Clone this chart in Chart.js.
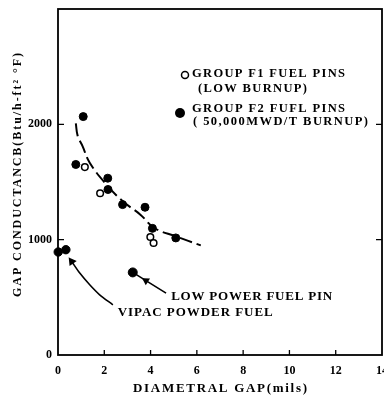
<!DOCTYPE html>
<html>
<head>
<meta charset="utf-8">
<script src="https://cdn.jsdelivr.net/npm/chart.js@4.4.0/dist/chart.umd.min.js"></script>
<style>
  html, body { margin: 0; padding: 0; background: #fff; overflow: hidden; }
</style>
</head>
<body>
<canvas id="gapChart" width="392" height="401"></canvas>
<script>
const xTicks = [0, 2, 4, 6, 8, 10, 12, 14];
const yTicks = [0, 1000, 2000];

// group F2 pins (filled)
const f2Gap  = [0.77, 1.09, 2.15, 2.16, 2.79, 3.76, 4.08, 5.09];
const f2Cond = [1652, 2067, 1533, 1435, 1304, 1281, 1098, 1015];
// group F1 pins (open)
const f1Gap  = [1.16, 1.82, 3.99, 4.13];
const f1Cond = [1629, 1403, 1023, 971];
// dashed trend through the pin data
const fitGap  = [0.77, 0.85, 1.06, 1.37, 2.09, 2.80, 3.56, 4.16, 5.09, 6.17];
const fitCond = [2009, 1900, 1811, 1667, 1478, 1333, 1217, 1101, 1029, 950];
// vipac powder fuel
const vipacGap  = [0.01, 0.34];
const vipacCond = [893, 913];
const vipacLeadGap  = [0.59, 0.94, 1.37, 1.80, 2.37];
const vipacLeadCond = [811, 710, 609, 522, 435];
// low power fuel pin
const lowGap  = [3.23];
const lowCond = [716];
const lowLeadGap  = [3.23, 3.80, 4.67];
const lowLeadCond = [716, 645, 537];

const FONT = "'Liberation Serif', 'DejaVu Serif', serif";

const pts = (xs, ys) => xs.map((v, i) => ({ x: v, y: ys[i] }));

// stretch letter spacing so a label spans a given width
function fitText(ctx, str, x, y, width) {
  ctx.letterSpacing = '0px';
  const w = ctx.measureText(str).width;
  const gap = Math.max(0, (width - w) / (str.length - 1));
  ctx.letterSpacing = gap + 'px';
  ctx.fillText(str, x, y);
  ctx.letterSpacing = '0px';
}

// no extra room for edge labels, the layout padding decides the plot box
const noEdgePad = s => {
  s.paddingLeft = 0; s.paddingRight = 0;
  s.paddingTop = 0; s.paddingBottom = 0;
};

const frame = {
  id: 'frame',
  beforeDatasetsDraw(chart) {
    const { ctx, chartArea: a, scales: { x, y } } = chart;
    ctx.save();
    ctx.strokeStyle = '#000';
    ctx.lineWidth = 1.8;
    ctx.strokeRect(a.left, a.top, a.right - a.left, a.bottom - a.top);
    ctx.lineWidth = 1.3;
    ctx.beginPath();
    xTicks.forEach(v => {
      if (v > 0 && v < 14) {
        const px = x.getPixelForValue(v);
        ctx.moveTo(px, a.bottom);
        ctx.lineTo(px, a.bottom - 5);
      }
    });
    yTicks.forEach(v => {
      if (v > 0) {
        const py = y.getPixelForValue(v);
        ctx.moveTo(a.left, py); ctx.lineTo(a.left + 6, py);
        ctx.moveTo(a.right, py); ctx.lineTo(a.right - 6, py);
      }
    });
    ctx.stroke();
    ctx.restore();
  },
  afterDraw(chart) {
    const { ctx, chartArea: a, scales: { x, y } } = chart;
    ctx.save();
    ctx.fillStyle = '#000';
    ctx.strokeStyle = '#000';
    ctx.textBaseline = 'middle';
    ctx.textAlign = 'left';

    // axis titles
    ctx.font = 'bold 13px ' + FONT;
    fitText(ctx, 'DIAMETRAL GAP(mils)', 133, 389, 174);
    ctx.save();
    ctx.translate(18, 175);
    ctx.rotate(-Math.PI / 2);
    ctx.font = 'bold 12px ' + FONT;
    fitText(ctx, 'GAP CONDUCTANCB(Btu/h-ft\u00b2 \u00b0F)', -122, 0, 244);
    ctx.restore();

    // legend
    const lx = a.left, ly = a.top;
    ctx.lineWidth = 1.5;
    ctx.beginPath();
    ctx.arc(lx + 127, ly + 66, 3.5, 0, Math.PI * 2);
    ctx.stroke();
    ctx.beginPath();
    ctx.arc(lx + 122, ly + 104, 5, 0, Math.PI * 2);
    ctx.fill();
    ctx.font = 'bold 12.5px ' + FONT;
    fitText(ctx, 'GROUP F1 FUEL PINS', lx + 134, ly + 65, 153);
    fitText(ctx, '(LOW BURNUP)', lx + 140, ly + 80, 109);
    fitText(ctx, 'GROUP F2 FUFL PINS', lx + 134, ly + 100, 153);
    fitText(ctx, '( 50,000MWD/T BURNUP)', lx + 135, ly + 113, 175);

    // curve labels
    ctx.font = 'bold 13px ' + FONT;
    fitText(ctx, 'LOW POWER FUEL PIN', x.getPixelForValue(4.89), y.getPixelForValue(504), 161);
    fitText(ctx, 'VIPAC POWDER FUEL', x.getPixelForValue(2.58), y.getPixelForValue(365), 155);
    ctx.restore();
  }
};

const tickFont = { family: FONT, weight: 'bold', size: 12 };

new Chart(document.getElementById('gapChart'), {
  type: 'scatter',
  data: {
    datasets: [
      {
        type: 'line', data: pts(fitGap, fitCond), borderColor: '#000', borderWidth: 2,
        borderDash: [13, 5], tension: 0.4, pointRadius: 0, clip: false
      },
      {
        data: pts(f2Gap, f2Cond), backgroundColor: '#000', borderColor: '#000',
        pointRadius: 4, clip: false
      },
      {
        data: pts(f1Gap, f1Cond), backgroundColor: '#fff', borderColor: '#000',
        borderWidth: 1.5, pointRadius: 3.3, clip: false
      },
      {
        type: 'line', data: pts(vipacLeadGap, vipacLeadCond), borderColor: '#000', borderWidth: 1.6,
        tension: 0.3, backgroundColor: '#000',
        pointStyle: ['triangle', false, false, false, false],
        pointRadius: [3.5, 0, 0, 0, 0], pointRotation: -36, clip: false
      },
      {
        data: pts(vipacGap, vipacCond), backgroundColor: '#000', borderColor: '#000',
        pointRadius: 4.2, clip: false
      },
      {
        type: 'line', data: pts(lowLeadGap, lowLeadCond), borderColor: '#000', borderWidth: 1.6,
        backgroundColor: '#000', pointStyle: [false, 'triangle', false],
        pointRadius: [0, 3, 0], pointRotation: -58, clip: false
      },
      {
        data: pts(lowGap, lowCond), backgroundColor: '#000', borderColor: '#000',
        pointRadius: 4.5, clip: false
      }
    ]
  },
  options: {
    responsive: false,
    animation: false,
    layout: { padding: { top: 9, right: 10, left: 0, bottom: 0 } },
    plugins: { legend: { display: false }, tooltip: { enabled: false } },
    scales: {
      x: {
        type: 'linear', min: 0, max: 14,
        afterBuildTicks: s => { s.ticks = xTicks.map(v => ({ value: v })); },
        afterFit: s => { s.height = 46; noEdgePad(s); },
        grid: { display: false, drawTicks: false },
        border: { display: false },
        ticks: { padding: 9, color: '#000', font: tickFont, maxRotation: 0, callback: v => String(v) }
      },
      y: {
        type: 'linear', min: 0, max: 3000,
        afterBuildTicks: s => { s.ticks = yTicks.map(v => ({ value: v })); },
        afterFit: s => { s.width = 58; noEdgePad(s); },
        grid: { display: false, drawTicks: false },
        border: { display: false },
        ticks: { padding: 6, color: '#000', font: tickFont, callback: v => String(v) }
      }
    }
  },
  plugins: [frame]
});
</script>
</body>
</html>
